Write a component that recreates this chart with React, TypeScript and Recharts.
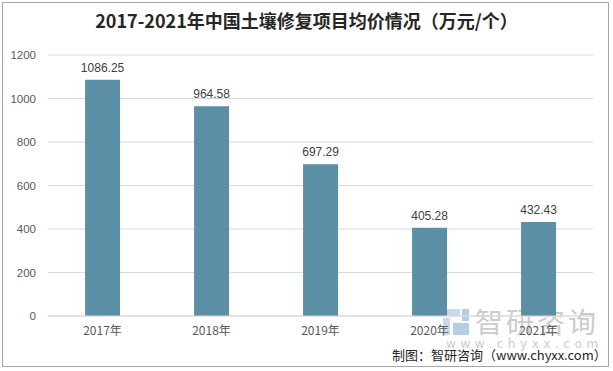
import React from "react";
import { BarChart, Bar, XAxis, YAxis, CartesianGrid, LabelList } from "recharts";

const years = ["2017年", "2018年", "2019年", "2020年", "2021年"];
const avgPrice = [1086.25, 964.58, 697.29, 405.28, 432.43];
const yTicks = [0, 200, 400, 600, 800, 1000, 1200];

const chartData = years.map((year, i) => ({ year, value: avgPrice[i] }));

const FONT = "'Noto Sans CJK SC', 'Noto Sans', sans-serif";

export default function App() {
  return (
    <div
      style={{
        position: "absolute",
        left: 0,
        top: 0,
        width: 613,
        height: 371,
        background: "#fff",
        fontFamily: FONT,
      }}
    >
      <div
        style={{
          position: "absolute",
          left: 2,
          top: 2,
          width: 605,
          height: 363,
          border: "1px solid #a6a6a6",
        }}
      />
      <div
        style={{
          position: "absolute",
          left: 0,
          top: 8,
          width: 613,
          textAlign: "center",
          fontSize: 18,
          fontWeight: "bold",
          color: "#262626",
          lineHeight: "24px",
        }}
      >
        2017-2021年中国土壤修复项目均价情况（万元/个）
      </div>

      {/* watermark */}
      <div style={{ position: "absolute", left: 443, top: 309, width: 26, height: 26 }}>
        <div style={{ position: "absolute", left: 0, top: 0, width: 17, height: 7, background: "#c9d9e8" }} />
        <div style={{ position: "absolute", left: 0, top: 9, width: 7, height: 17, background: "#c9d9e8" }} />
        <div style={{ position: "absolute", left: 10, top: 14, width: 16, height: 12, background: "#b6cde3" }} />
        <div style={{ position: "absolute", left: 19, top: 0, width: 7, height: 12, background: "#b6cde3" }} />
      </div>
      <div
        style={{
          position: "absolute",
          left: 475,
          top: 303,
          fontSize: 28,
          color: "#cccccc",
          letterSpacing: 3,
          lineHeight: "36px",
        }}
      >
        智研咨询
      </div>
      <div
        style={{
          position: "absolute",
          left: 446,
          top: 336,
          fontSize: 12,
          color: "#cccccc",
          letterSpacing: 4.6,
          lineHeight: "16px",
          fontFamily: "'DejaVu Sans', sans-serif",
          whiteSpace: "nowrap",
        }}
      >
        www.chyxx.com
      </div>

      <BarChart
        width={613}
        height={371}
        data={chartData}
        margin={{ top: 55, right: 20, bottom: 25, left: 0 }}
        barCategoryGap="34%"
        style={{ position: "absolute", left: 0, top: 0 }}
      >
        <CartesianGrid vertical={false} stroke="#d9d9d9" />
        <XAxis
          dataKey="year"
          height={30}
          axisLine={{ stroke: "#d9d9d9" }}
          tickLine={false}
          tickMargin={4}
          tick={{ fontSize: 12, fill: "#595959", fontFamily: FONT }}
        />
        <YAxis
          width={48}
          domain={[0, 1200]}
          ticks={yTicks}
          axisLine={false}
          tickLine={false}
          tickMargin={6}
          tick={{ fontSize: 11.5, fill: "#595959", fontFamily: "'Liberation Sans', sans-serif" }}
        />
        <Bar dataKey="value" fill="#5b8fa6" isAnimationActive={false}>
          <LabelList
            dataKey="value"
            position="top"
            offset={8}
            style={{ fontSize: 12, fill: "#404040", fontFamily: "'Liberation Sans', sans-serif" }}
          />
        </Bar>
      </BarChart>

      <div
        style={{
          position: "absolute",
          left: 392,
          top: 345,
          fontSize: 13,
          color: "#262626",
          lineHeight: "20px",
          whiteSpace: "nowrap",
        }}
      >
        制图：智研咨询（www.chyxx.com）
      </div>
    </div>
  );
}
